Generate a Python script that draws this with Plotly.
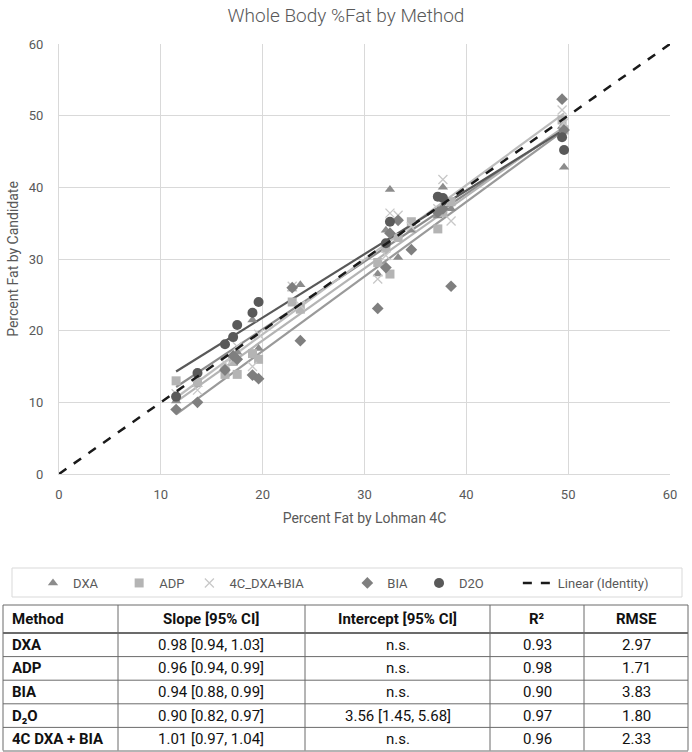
import numpy as np
import plotly.graph_objects as go

# Lohman 4C reference %fat (x) and candidate %fat for each method (y)
lohman = [11.5, 13.6, 16.3, 17.1, 17.5, 19.0, 19.6, 22.9, 23.7, 31.3,
          32.1, 32.5, 33.3, 34.6, 37.2, 37.7, 38.5, 49.4, 49.6]
dxa = [10.2, 12.5, 15.0, 16.5, 17.0, 21.5, 17.5, 25.8, 26.4, 27.9,
       34.0, 39.7, 30.2, 34.0, 36.0, 40.0, 37.0, 48.5, 42.8]
adp = [13.0, 12.8, 13.9, 15.7, 13.9, 16.8, 16.0, 24.0, 23.0, 29.5,
       31.5, 27.9, 33.0, 35.2, 34.2, 36.5, 38.0, 49.4, 48.0]
c4_dxa_bia = [11.2, 11.7, 15.5, 16.0, 17.8, 15.0, 19.5, 26.2, 23.5, 27.2,
              30.5, 36.4, 36.1, 34.5, 37.0, 41.1, 35.3, 50.8, 49.0]
bia = [9.0, 10.0, 14.5, 16.5, 16.0, 13.8, 13.3, 26.0, 18.6, 23.1,
       28.8, 33.6, 35.4, 31.3, 36.5, 37.0, 26.2, 52.3, 48.0]
d2o = [10.8, 14.1, 18.1, 19.1, 20.8, 22.5, 24.0, None, None, None,
       32.2, 35.2, None, None, 38.7, 38.5, None, 47.0, 45.2]

identity = [0, 60]

# summary table
tbl_header = ["Method", "Slope [95% CI]", "Intercept [95% CI]", "R²", "RMSE"]
tbl_method = ["DXA", "ADP", "BIA", "D₂O", "4C DXA + BIA"]
tbl_slope = ["0.98 [0.94, 1.03]", "0.96 [0.94, 0.99]", "0.94 [0.88, 0.99]",
             "0.90 [0.82, 0.97]", "1.01 [0.97, 1.04]"]
tbl_intercept = ["n.s.", "n.s.", "n.s.", "3.56 [1.45, 5.68]", "n.s."]
tbl_r2 = ["0.93", "0.98", "0.90", "0.97", "0.96"]
tbl_rmse = ["2.97", "1.71", "3.83", "1.80", "2.33"]

FONT = "Roboto, sans-serif"
W, H = 692, 752
NB = "\u00a0"

series = [
    ("DXA", NB * 5, dxa, "triangle-up", "#8c8c8c", "#8c8c8c", 9),
    ("ADP", "", adp, "square", "#b4b4b4", "#b4b4b4", 9),
    ("4C_DXA+BIA", NB * 12, c4_dxa_bia, "x-thin", "#c8c8c8", "#bdbdbd", 9),
    ("BIA", NB * 2, bia, "diamond", "#7f7f7f", "#9a9a9a", 9),
    ("D2O", NB * 9, d2o, "circle", "#595959", "#595959", 10),
]

fig = go.Figure()

# trendlines (least squares, like the spreadsheet trendline) under the markers
for name, pad, ys, sym, col, lcol, size in series:
    xs = np.array([x for x, y in zip(lohman, ys) if y is not None])
    yv = np.array([y for y in ys if y is not None])
    m, b = np.polyfit(xs, yv, 1)
    xl = [xs.min(), xs.max()]
    fig.add_trace(go.Scatter(x=xl, y=[m * v + b for v in xl], mode="lines",
                             line=dict(color=lcol, width=2.2), showlegend=False,
                             hoverinfo="skip"))

for name, pad, ys, sym, col, lcol, size in series:
    if sym == "x-thin":
        mk = dict(symbol=sym, size=size, line=dict(color=col, width=1.3))
    else:
        mk = dict(symbol=sym, size=size, color=col)
    fig.add_trace(go.Scatter(x=lohman, y=ys, mode="markers", name=name + pad, marker=mk))

fig.add_trace(go.Scatter(x=identity, y=identity, mode="lines", name="Linear (Identity)",
                         line=dict(color="#1a1a1a", width=2.5, dash="dash")))


def py(p):
    return 1 - p / H


def px(p):
    return p / W


# legend frame
shapes = [dict(type="rect", xref="paper", yref="paper", x0=px(12), x1=px(682),
               y0=py(597), y1=py(568), line=dict(color="#d9d9d9", width=1))]

# table drawn with shapes + annotations (pixel layout -> paper coords)
col_edges = [3, 118, 305, 490, 584, 688]
top, head_h, row_h = 605, 28, 23.6
row_edges = [top, top + head_h] + [top + head_h + row_h * (i + 1) for i in range(len(tbl_method))]

for i, yy in enumerate(row_edges):
    shapes.append(dict(type="line", xref="paper", yref="paper",
                       x0=px(col_edges[0]), x1=px(col_edges[-1]), y0=py(yy), y1=py(yy),
                       line=dict(color="#6b6b6b", width=2 if i == 1 else 1)))
for xx in col_edges:
    shapes.append(dict(type="line", xref="paper", yref="paper",
                       x0=px(xx), x1=px(xx), y0=py(row_edges[0]), y1=py(row_edges[-1] - 0.5),
                       line=dict(color="#6b6b6b", width=1)))

annotations = []
columns = [tbl_method, tbl_slope, tbl_intercept, tbl_r2, tbl_rmse]
for c, head in enumerate(tbl_header):
    cells = [head] + columns[c]
    for r, txt in enumerate(cells):
        yc = (row_edges[r] + row_edges[r + 1]) / 2
        bold = r == 0 or c == 0
        if c == 0:
            xa, anchor = px(col_edges[0] + 7), "left"
        else:
            xa, anchor = px((col_edges[c] + col_edges[c + 1]) / 2), "center"
        annotations.append(dict(xref="paper", yref="paper", x=xa, y=py(yc),
                                xanchor=anchor, yanchor="middle", showarrow=False,
                                text=f"<b>{txt}</b>" if bold else txt,
                                font=dict(family=FONT, size=15, color="#111111")))

grid = "#d9d9d9"
fig.update_layout(
    width=W, height=H,
    margin=dict(l=0, r=0, t=0, b=0, autoexpand=False),
    paper_bgcolor="white", plot_bgcolor="white",
    font=dict(family=FONT, color="#595959", size=13),
    title=dict(text="Whole Body %Fat by Method", x=0.5, xanchor="center",
               y=1 - 15 / H, yanchor="middle",
               font=dict(size=19, color="#595959", weight=300)),
    xaxis=dict(domain=[59 / W, 670 / W], range=[0, 60], dtick=10,
               showgrid=True, gridcolor=grid, zeroline=False,
               showline=True, linecolor=grid, ticks="", ticklabelstandoff=8,
               title=dict(text="Percent Fat by Lohman 4C", standoff=12,
                          font=dict(size=14, color="#595959"))),
    yaxis=dict(domain=[(H - 474) / H, (H - 44) / H], range=[0, 60], dtick=10,
               showgrid=True, gridcolor=grid, zeroline=False,
               showline=True, linecolor=grid, ticks="", ticklabelstandoff=12,
               title=dict(text="Percent Fat by Candidate", standoff=6,
                          font=dict(size=14, color="#595959"))),
    legend=dict(orientation="h", x=px(55 - 22), xanchor="left", y=py(568), yanchor="top",
                borderwidth=0, bgcolor="rgba(0,0,0,0)",
                font=dict(size=13, color="#595959"), itemwidth=30),
    shapes=shapes,
    annotations=annotations,
)

fig.write_html("out.html", config={"displayModeBar": False},
               post_script="document.body.style.margin='0';")
